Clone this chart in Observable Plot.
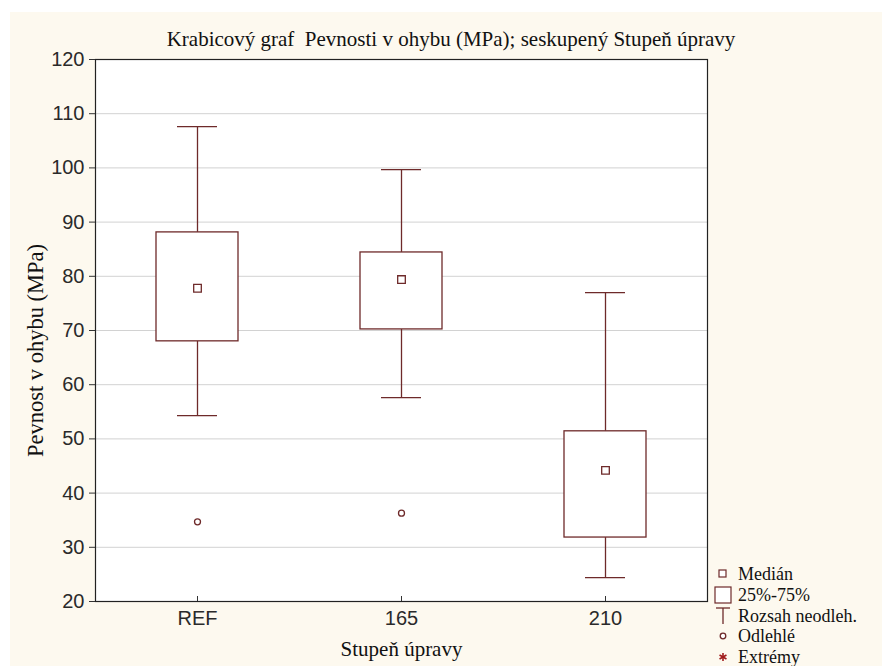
<!DOCTYPE html>
<html>
<head>
<meta charset="utf-8">
<script src="https://cdn.jsdelivr.net/npm/d3@7"></script>
<script src="https://cdn.jsdelivr.net/npm/@observablehq/plot@0.6"></script>
<style>
  html, body { margin: 0; padding: 0; background: #ffffff; }
  #wrap { position: relative; width: 882px; height: 666px; overflow: hidden; }
  #paper { position: absolute; left: 10px; top: 12px; right: 0; bottom: 0; background: #fdf9ef; }
  #chart { position: absolute; left: 0; top: 0; }
  #title { position: absolute; left: 0; width: 902px; top: 27px; text-align: center;
           font: 21px "Liberation Serif", "DejaVu Serif", serif; color: #111; white-space: pre; }
  #legend { position: absolute; left: 712px; top: 565px; font: 18px "Liberation Serif", serif; color: #111; }
  #legend .item { position: absolute; left: 0; height: 18px; white-space: nowrap; }
  #legend svg { position: absolute; left: 0; top: 0; overflow: visible; }
  #legend span { position: absolute; left: 26px; top: 0; line-height: 18px; }
</style>
</head>
<body>
<div id="wrap">
  <div id="paper"></div>
  <div id="chart"></div>
  <div id="title">Krabicový graf  Pevnosti v ohybu (MPa); seskupený Stupeň úpravy</div>
  <div id="legend"></div>
</div>
<script>
// Flexural strength (MPa) by treatment level
const groups      = ["REF", "165", "210"];
const medians     = [77.8, 79.4, 44.2];
const q1          = [68.0, 70.2, 31.8];
const q3          = [88.1, 84.4, 51.4];
const whiskerLow  = [54.3, 57.6, 24.4];
const whiskerHigh = [107.6, 99.7, 77.0];
const outlierGroups = ["REF", "165"];
const outlierValues = [34.7, 36.3];
const yTicks = [20, 30, 40, 50, 60, 70, 80, 90, 100, 110, 120];

const boxes = groups.map((g, i) => ({
  group: g, median: medians[i], q1: q1[i], q3: q3[i], lo: whiskerLow[i], hi: whiskerHigh[i]
}));
const outliers = outlierGroups.map((g, i) => ({ group: g, value: outlierValues[i] }));

const ink = "#6e2a2a";
const W = 882, H = 666;
const mL = 95, mR = W - 707, mT = 59, mB = H - 601;
const step = (W - mL - mR) / groups.length;
const boxInset = (step - 82) / 2;
const capInset = (step - 40) / 2;
const sans = "'Liberation Sans', Arial, sans-serif";
const serif = "'Liberation Serif', 'Times New Roman', serif";

const chart = Plot.plot({
  width: W,
  height: H,
  marginLeft: mL,
  marginRight: mR,
  marginTop: mT,
  marginBottom: mB,
  style: { background: "transparent", fontFamily: sans, fontSize: "20px", color: "#2a2a2a" },
  x: { type: "band", domain: groups, padding: 0, label: null },
  y: { domain: [20, 120], label: null },
  marks: [
    Plot.frame({ fill: "white", stroke: "none" }),
    Plot.ruleY(yTicks.slice(1, -1), { stroke: "#d2d2d2", strokeWidth: 1 }),
    // whiskers
    Plot.ruleX(boxes, { x: "group", y1: "q3", y2: "hi", stroke: ink, strokeWidth: 1.3 }),
    Plot.ruleX(boxes, { x: "group", y1: "lo", y2: "q1", stroke: ink, strokeWidth: 1.3 }),
    Plot.tickY(boxes, { x: "group", y: "hi", stroke: ink, strokeWidth: 1.3, insetLeft: capInset, insetRight: capInset }),
    Plot.tickY(boxes, { x: "group", y: "lo", stroke: ink, strokeWidth: 1.3, insetLeft: capInset, insetRight: capInset }),
    // interquartile boxes
    Plot.barY(boxes, { x: "group", y1: "q1", y2: "q3", fill: "white", stroke: ink, strokeWidth: 1.3, insetLeft: boxInset, insetRight: boxInset }),
    // medians
    Plot.dot(boxes, { x: "group", y: "median", symbol: "square", r: 4.3, fill: "white", stroke: ink, strokeWidth: 1.3 }),
    // outliers
    Plot.dot(outliers, { x: "group", y: "value", symbol: "circle", r: 3, fill: "white", stroke: ink, strokeWidth: 1.3 }),
    Plot.frame({ stroke: "#222", strokeWidth: 1.2 }),
    Plot.axisY(yTicks, { tickSize: 6, tickPadding: 5, stroke: "#333", fill: "#2a2a2a", fontSize: 20, label: null }),
    Plot.axisX(groups, { tickSize: -5, tickPadding: 14, stroke: "#333", fill: "#2a2a2a", fontSize: 20, label: null }),
    Plot.text(["Stupeň úpravy"], { frameAnchor: "bottom", dy: 54, fontFamily: serif, fontSize: 21, fill: "#111" }),
    Plot.text(["Pevnost v ohybu (MPa)"], { frameAnchor: "left", textAnchor: "middle", dx: -60, dy: 20, rotate: -90, fontFamily: serif, fontSize: 22.5, fill: "#111" })
  ]
});
document.getElementById("chart").append(chart);

// legend: symbol key for the box plot elements
const star = [0, 60, 120].map(a => {
  const t = a * Math.PI / 180, dx = 4 * Math.sin(t), dy = 4 * Math.cos(t);
  return `<line x1="${11 - dx}" y1="${9 - dy}" x2="${11 + dx}" y2="${9 + dy}" stroke="#a01c1c" stroke-width="1.6"/>`;
}).join("");
const legendItems = [
  { label: "Medián", y: 0, draw: `<rect x="7" y="5" width="7" height="7" fill="white" stroke="${ink}" stroke-width="1.2"/>` },
  { label: "25%-75%", y: 21, draw: `<rect x="3" y="1" width="16" height="16" fill="white" stroke="${ink}" stroke-width="1.2"/>` },
  { label: "Rozsah neodleh.", y: 42, draw: `<line x1="4" y1="1" x2="18" y2="1" stroke="${ink}" stroke-width="1.3"/><line x1="11" y1="1" x2="11" y2="17" stroke="${ink}" stroke-width="1.3"/>` },
  { label: "Odlehlé", y: 62, draw: `<circle cx="11" cy="9" r="2.8" fill="white" stroke="${ink}" stroke-width="1.3"/>` },
  { label: "Extrémy", y: 83, draw: star }
];
const legend = document.getElementById("legend");
for (const it of legendItems) {
  const d = document.createElement("div");
  d.className = "item";
  d.style.top = it.y + "px";
  d.innerHTML = `<svg width="22" height="18">${it.draw}</svg><span>${it.label}</span>`;
  legend.append(d);
}
</script>
</body>
</html>
